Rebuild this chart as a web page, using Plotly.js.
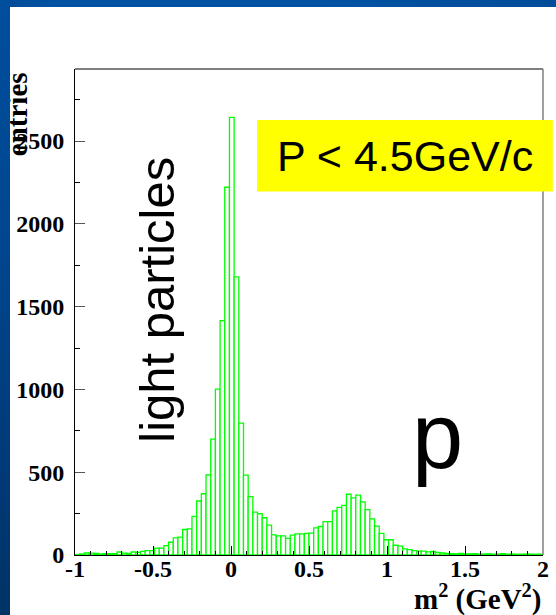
<!DOCTYPE html>
<html>
<head>
<meta charset="utf-8">
<script src="https://cdn.plot.ly/plotly-3.0.1.min.js"></script>
<style>
  html, body { margin: 0; padding: 0; background: #ffffff; }
  #chart { width: 556px; height: 615px; }
  .band-top { position: absolute; left: 0; top: 0; width: 556px; height: 7px;
    background: linear-gradient(to right, #004a96 0%, #0052a3 10%, #0052a3 60%, #004c99 100%); z-index: 5; }
  .band-left { position: absolute; left: 0; top: 0; width: 10px; height: 615px;
    background: linear-gradient(to bottom, #004e9e 0%, #00468e 40%, #003a78 75%, #003366 100%); z-index: 5; }
</style>
</head>
<body>
<div class="band-top"></div>
<div class="band-left"></div>
<div id="chart"></div>
<script>
// Missing-mass-squared spectrum, 100 bins of 0.03 GeV^2 from -1 to 2
const binStart = -1.0;
const binWidth = 0.03;
const counts = [
  3, 6, 12, 11, 9, 6, 8, 8, 8, 18,
  11, 9, 18, 16, 22, 26, 27, 41, 42, 57,
  77, 104, 108, 154, 158, 233, 326, 370, 483, 700,
  1002, 1416, 2221, 2643, 1680, 797, 482, 353, 259, 249,
  225, 181, 121, 116, 116, 101, 120, 128, 128, 130,
  132, 164, 172, 202, 202, 266, 288, 300, 367, 345,
  361, 321, 274, 218, 174, 130, 92, 92, 59, 53,
  37, 33, 27, 23, 23, 19, 21, 15, 12, 10,
  8, 7, 9, 6, 7, 8, 5, 6, 7, 5,
  6, 8, 5, 6, 4, 5, 6, 5, 4, 5
];
const binCenters = counts.map((_, i) => binStart + binWidth * (i + 0.5));

const xTickVals = [-1, -0.5, 0, 0.5, 1, 1.5, 2];
const xTickText = ['-1', '-0.5', '0', '0.5', '1', '1.5', '2'];
const yTickVals = [0, 500, 1000, 1500, 2000, 2500];
const yTickText = ['0', '500', '1000', '1500', '2000', '2500'];

const serifFamily = 'Liberation Serif, Times New Roman, serif';
const serifBold = { family: serifFamily, size: 24, color: '#000', weight: 'bold' };
const sans = 'Liberation Sans, Arial, Helvetica, sans-serif';

const trace = {
  type: 'bar',
  x: binCenters,
  y: counts,
  width: binWidth,
  marker: { color: '#ffffff', line: { color: '#00ff00', width: 1.3 } },
  hoverinfo: 'x+y'
};

const layout = {
  width: 556,
  height: 615,
  margin: { l: 75, r: 13, t: 69, b: 60 },
  paper_bgcolor: '#ffffff',
  plot_bgcolor: '#ffffff',
  showlegend: false,
  bargap: 0,
  xaxis: {
    range: [-1, 2],
    tickmode: 'array', tickvals: xTickVals, ticktext: xTickText,
    ticks: 'inside', ticklen: 9, tickcolor: '#000', tickwidth: 1,
    minor: { dtick: 0.1, tick0: 0, ticks: 'inside', ticklen: 4, tickcolor: '#000' },
    showline: true, linecolor: '#000', linewidth: 1,
    showgrid: false, zeroline: false,
    tickfont: serifBold, ticklabelstandoff: -8
  },
  yaxis: {
    range: [0, 2935],
    tickmode: 'array', tickvals: yTickVals, ticktext: yTickText,
    ticks: 'inside', ticklen: 10, tickcolor: '#555', tickwidth: 1,
    minor: { dtick: 250, tick0: 0, ticks: 'inside', ticklen: 5, tickcolor: '#000' },
    showline: true, linecolor: '#000', linewidth: 1,
    showgrid: false, zeroline: false,
    tickfont: serifBold, ticklabelstandoff: 5
  },
  shapes: [
    { type: 'line', xref: 'paper', yref: 'paper', x0: 0, x1: 1, y0: 1, y1: 1,
      line: { color: '#000', width: 1 } },
    { type: 'line', xref: 'paper', yref: 'paper', x0: 1, x1: 1, y0: 0, y1: 1,
      line: { color: '#808080', width: 1.5 } },
    { type: 'rect', xref: 'paper', yref: 'paper', x0: 0.389, x1: 1.021, y0: 0.748, y1: 0.895,
      fillcolor: '#ffff00', line: { width: 0 }, layer: 'above' }
  ],
  annotations: [
    { text: 'entries', xref: 'paper', yref: 'paper', x: -0.124, y: 0.907,
      xanchor: 'center', yanchor: 'middle', textangle: -90, showarrow: false,
      font: { family: serifFamily, size: 29, color: '#000', weight: 'bold' } },
    { text: 'm<sup>2</sup> (GeV<sup>2</sup>)', xref: 'paper', yref: 'paper', x: 1.0, y: -0.088,
      xanchor: 'right', yanchor: 'middle', showarrow: false,
      font: { family: serifFamily, size: 29, color: '#000', weight: 'bold' } },
    { text: 'light particles', xref: 'paper', yref: 'paper', x: 0.175, y: 0.525,
      xanchor: 'center', yanchor: 'middle', textangle: -90, showarrow: false,
      font: { family: sans, size: 49, color: '#000' } },
    { text: 'p', xref: 'paper', yref: 'paper', x: 0.774, y: 0.245,
      xanchor: 'center', yanchor: 'middle', showarrow: false,
      font: { family: sans, size: 92, color: '#000' } },
    { text: 'P &lt; 4.5GeV/c', xref: 'paper', yref: 'paper', x: 0.705, y: 0.821,
      xanchor: 'center', yanchor: 'middle', showarrow: false,
      font: { family: sans, size: 43, color: '#000' } }
  ]
};

Plotly.newPlot('chart', [trace], layout, { displayModeBar: false, staticPlot: true });
</script>
</body>
</html>
